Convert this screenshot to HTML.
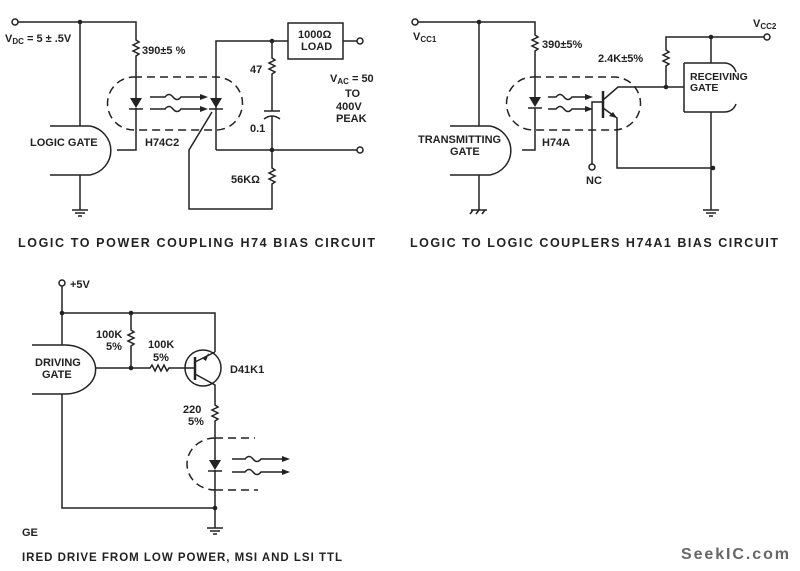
<!DOCTYPE html>
<html><head><style>
html,body{margin:0;padding:0;background:#fff;}
svg{display:block;}
text{font-family:"Liberation Sans",sans-serif;font-weight:bold;fill:#222;}
</style></head><body>
<svg width="800" height="571" viewBox="0 0 800 571" xmlns="http://www.w3.org/2000/svg">
<g stroke="#222" stroke-width="1.5" fill="none">
<!-- ===== Circuit 1 ===== -->
<circle cx="15" cy="22" r="3" fill="#fff"/>
<path d="M18 22 H136 V40 l3 2 -6 3 6 3 -6 3 6 3 -3 2 V98"/>
<path d="M80 22 V126"/>
<path d="M136 108 V150 H117"/>
<path d="M50 126 H90 A26 25 0 0 1 90 175 H50"/>
<path d="M80 175 V210"/>
<path d="M72 210 H88 M75 213 H85 M78 216 H82"/>
<path d="M134 77 H216 A26 26 0 0 1 216 130 H134 A26 26 0 0 1 134 77 Z" stroke-dasharray="8 5"/>
<path d="M150 97 H165 q4 -5 8 0 t8 0 H200 M150 109 H165 q4 -5 8 0 t8 0 H200"/>
<path d="M216 150 V41 H288"/>
<rect x="288" y="23" width="55" height="36"/>
<path d="M343 41 H357"/>
<circle cx="360" cy="41" r="3" fill="#fff"/>
<path d="M272 41 V58 l3 2 -6 3 6 3 -6 3 6 3 -3 2 V111"/>
<path d="M264 111 H280 M264 119 Q272 113 280 119"/>
<path d="M272 116 V168 l3 2 -6 3 6 3 -6 3 6 3 -3 2 V209 H189 V150 L212 112"/>
<path d="M216 150 H357"/>
<circle cx="360" cy="150" r="3" fill="#fff"/>
<!-- ===== Circuit 2 ===== -->
<circle cx="415" cy="22" r="3" fill="#fff"/>
<path d="M418 22 H535 V35 l3 2 -6 3 6 3 -6 3 6 3 -3 2 V97"/>
<path d="M479 22 V126"/>
<path d="M535 108 V150 H522"/>
<path d="M450 126 H490 A26 25 0 0 1 490 175 H450"/>
<path d="M479 175 V210 M471 210 H487 M473 210 l-3 4 M479 210 l-3 4 M485 210 l-3 4"/>
<path d="M533 77 H614 A26 26 0 0 1 614 130 H533 A26 26 0 0 1 533 77 Z" stroke-dasharray="8 5"/>
<path d="M548 97 H556 q4 -5 8 0 t8 0 H585 M548 109 H556 q4 -5 8 0 t8 0 H585"/>
<path d="M603 91 V118" stroke-width="2.5"/>
<path d="M603 100 L618 87 H684"/>
<path d="M603 108 L617 118 V168 H711"/>
<path d="M592 164 V102 H603"/>
<circle cx="592" cy="167" r="3" fill="#fff"/>
<path d="M666 87 V66 l3 -2 -6 -3 6 -3 -6 -3 6 -3 -3 -2 V37 H764"/>
<circle cx="767" cy="37" r="3" fill="#fff"/>
<path d="M711 37 V63 M711 112 V210 M703 210 H719 M706 213 H716 M709 216 H713"/>
<path d="M684 63 V112 M684 63 H724 Q733 63 736 72 M684 112 H724 Q733 112 736 104"/>
<!-- ===== Circuit 3 ===== -->
<circle cx="62" cy="283" r="3" fill="#fff"/>
<path d="M62 286 V345 M62 313 H215 V352"/>
<path d="M131 313 V330 l3 2 -6 3 6 3 -6 3 6 3 -3 2 V368"/>
<path d="M32 345 H65 A30 24 0 0 1 65 394 H32"/>
<path d="M95 368 H150 l2 -3 3 6 3 -6 3 6 3 -6 3 6 2 -3 H195"/>
<circle cx="203" cy="368" r="18"/>
<path d="M195 357 V380" stroke-width="2.5"/>
<path d="M195 362 L215 352 M195 374 L215 385 V405 l3 2 -6 3 6 3 -6 3 6 3 -3 2 V460"/>
<path d="M215 470 V528 M207 528 H223 M210 531 H220 M213 534 H217"/>
<path d="M62 394 V508 H215"/>
<path d="M215 438 H255 M215 490 H258 M215 438 A28 26 0 0 0 215 490" stroke-dasharray="8 5"/>
<path d="M232 459 H245 q4 -5 8 0 t8 0 H282 M232 472 H245 q4 -5 8 0 t8 0 H282"/>
</g>
<g fill="#222">
<circle cx="80" cy="22" r="2.3"/><circle cx="272" cy="41" r="2.3"/><circle cx="272" cy="150" r="2.3"/>
<circle cx="479" cy="22" r="2.3"/><circle cx="666" cy="87" r="2.3"/><circle cx="711" cy="37" r="2.3"/><circle cx="713" cy="168" r="2.3"/>
<circle cx="62" cy="313" r="2.3"/><circle cx="131" cy="313" r="2.3"/><circle cx="131" cy="368" r="2.3"/><circle cx="215" cy="508" r="2.3"/>
<path d="M130 98 H142 L136 108 Z"/><path d="M129 109 H143" stroke="#222" stroke-width="1.5"/>
<path d="M210 98 H222 L216 108 Z"/><path d="M209 109 H223" stroke="#222" stroke-width="1.5"/>
<path d="M529 97 H541 L535 107 Z"/><path d="M528 108 H542" stroke="#222" stroke-width="1.5"/>
<path d="M209 460 H221 L215 470 Z"/><path d="M208 471 H222" stroke="#222" stroke-width="1.5"/>
<path d="M200 94 L208 97 L200 100 Z M200 106 L208 109 L200 112 Z"/>
<path d="M585 94 L593 97 L585 100 Z M585 106 L593 109 L585 112 Z"/>
<path d="M282 456 L290 459 L282 462 Z M282 469 L290 472 L282 475 Z"/>
<path d="M203 359 L209 353 L206 361 Z"/>
<path d="M617 118 L609 116 L613 112 Z"/>
</g>
<g font-size="11">
<text x="5" y="42">V<tspan font-size="8" dy="2">DC</tspan><tspan dy="-2"> = 5 ± .5V</tspan></text>
<text x="142" y="54">390±5 %</text>
<text x="30" y="146">LOGIC GATE</text>
<text x="145" y="146">H74C2</text>
<text x="298" y="38">1000Ω</text>
<text x="301" y="50">LOAD</text>
<text x="250" y="73">47</text>
<text x="250" y="132">0.1</text>
<text x="231" y="183">56KΩ</text>
<text x="330" y="82">V<tspan font-size="8" dy="2">AC</tspan><tspan dy="-2"> = 50</tspan></text>
<text x="345" y="97">TO</text>
<text x="336" y="110">400V</text>
<text x="336" y="122">PEAK</text>
<text x="413" y="40">V<tspan font-size="8" dy="2">CC1</tspan></text>
<text x="542" y="48">390±5%</text>
<text x="598" y="62">2.4K±5%</text>
<text x="753" y="27">V<tspan font-size="8" dy="2">CC2</tspan></text>
<text x="690" y="80" font-size="10.5">RECEIVING</text>
<text x="690" y="91" font-size="10.5">GATE</text>
<text x="418" y="143">TRANSMITTING</text>
<text x="450" y="155">GATE</text>
<text x="542" y="146">H74A</text>
<text x="586" y="184">NC</text>
<text x="70" y="288">+5V</text>
<text x="96" y="338">100K</text>
<text x="106" y="350">5%</text>
<text x="148" y="348">100K</text>
<text x="153" y="361">5%</text>
<text x="35" y="366">DRIVING</text>
<text x="42" y="378">GATE</text>
<text x="230" y="373">D41K1</text>
<text x="183" y="413">220</text>
<text x="188" y="425">5%</text>
<text x="22" y="536">GE</text>
</g>
<g font-size="12.5">
<text x="18" y="247" textLength="357">LOGIC TO POWER COUPLING H74 BIAS CIRCUIT</text>
<text x="410" y="247" textLength="368">LOGIC TO LOGIC COUPLERS H74A1 BIAS CIRCUIT</text>
<text x="22" y="561" font-size="11.5" textLength="320">IRED DRIVE FROM LOW POWER, MSI AND LSI TTL</text>
</g>
<text x="681" y="559" font-size="16" style="fill:#666" textLength="108">SeekIC.com</text>
</svg>
</body></html>
